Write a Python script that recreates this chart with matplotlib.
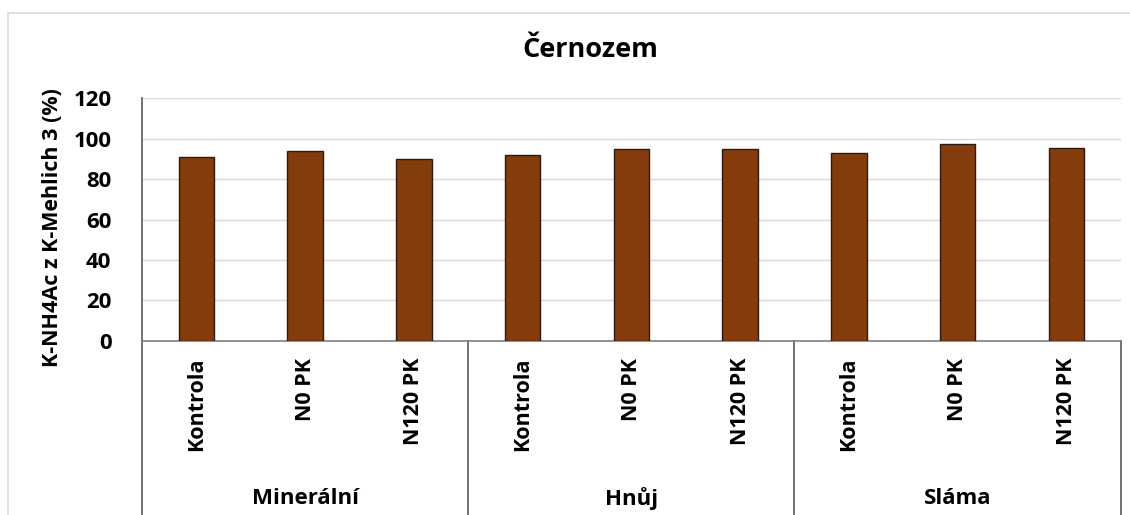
import matplotlib.pyplot as plt
from matplotlib.patches import Rectangle

plt.rcParams['font.family'] = ['Open Sans', 'DejaVu Sans']

# ---- data ----
groups = ["Minerální", "Hnůj", "Sláma"]
treatments = ["Kontrola", "N0 PK", "N120 PK"]
values = [91, 94, 90,   # Minerální
          92, 95, 95,   # Hnůj
          93, 97.5, 95.5]  # Sláma
title = "Černozem"
ylabel = "K-NH4Ac z K-Mehlich 3 (%)"
yticks = [0, 20, 40, 60, 80, 100, 120]

W, H = 1130, 515
fig = plt.figure(figsize=(W / 100, H / 100), dpi=100)

# outer chart frame (excel style)
fig.patches.append(Rectangle((8 / W, -0.2), 1.2, 1.2 - 13 / H,
                             transform=fig.transFigure, fill=False,
                             edgecolor="#d9d9d9", linewidth=1.2, zorder=0))

ax = fig.add_axes([142 / W, 1 - 340.7 / H, (1120.7 - 142) / W, (340.7 - 98.3) / H])

n = len(values)
x = list(range(n))
ax.bar(x, values, width=0.325, color="#843C0C", edgecolor="#2b1a10",
       linewidth=1.0, zorder=3)

ax.set_xlim(-0.5, n - 0.5)
ax.set_ylim(0, 120)
ax.set_yticks(yticks)
ax.yaxis.grid(True, color="#d9d9d9", linewidth=1.0, zorder=0)
ax.set_axisbelow(True)
ax.tick_params(axis="y", length=0, pad=22, labelsize=16)
for lab in ax.get_yticklabels():
    lab.set_fontweight("bold")

for s in ["top", "right"]:
    ax.spines[s].set_visible(False)
ax.spines["left"].set_color("#595959")
ax.spines["bottom"].set_color("#7f7f7f")
ax.spines["left"].set_linewidth(1.2)
ax.spines["bottom"].set_linewidth(1.2)

ax.set_xticks([])

# category labels (rotated) below the axis
trans = ax.get_xaxis_transform()
for i in range(n):
    ax.text(x[i], -0.07, treatments[i % 3], rotation=90, ha="center", va="top",
            transform=trans, fontsize=15.5, fontweight="bold")

# group labels and separators
for g, name in enumerate(groups):
    ax.text(3 * g + 1, -0.65, name, ha="center", va="center",
            transform=trans, fontsize=16, fontweight="bold")
for k in range(len(groups) + 1):
    ax.plot([3 * k - 0.5, 3 * k - 0.5], [0, -0.8], transform=trans,
            color="#595959", linewidth=1.2, clip_on=False)

ax.set_ylabel(ylabel, fontsize=15.5, fontweight="bold")
ax.yaxis.set_label_coords(-79 / (1120.7 - 142), 0.465)

fig.text(590 / W, 1 - 50 / H, title, ha="center", va="center",
         fontsize=19.5, fontweight="bold")

fig.savefig("out.png", dpi=100, facecolor="white")
